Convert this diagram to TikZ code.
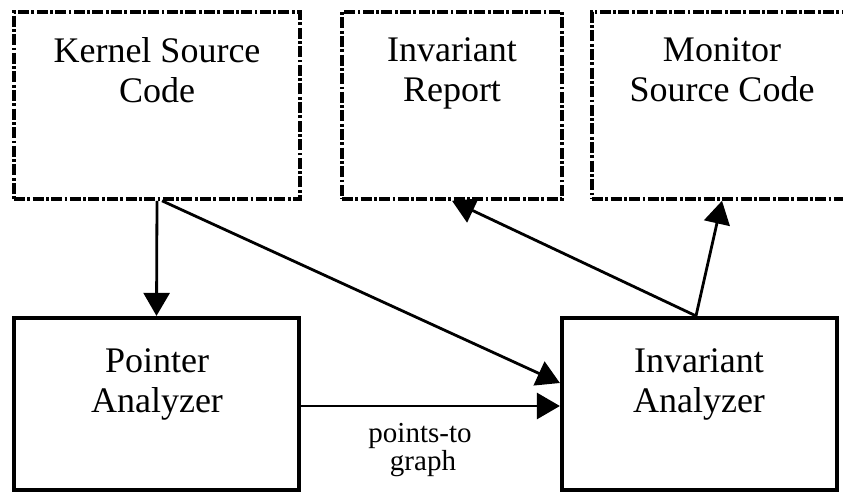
\documentclass[tikz,border=0pt]{standalone}
\usepackage{fontspec}
\setmainfont{Liberation Serif}
\usetikzlibrary{arrows.meta}

\begin{document}
\begin{tikzpicture}[x=0.5pt,y=-0.5pt,
  artefact/.style={draw, line width=1.8pt, rectangle,
    dash pattern=on 5.5pt off 1.2pt on 1.4pt off 1.2pt,
    minimum height=93.5pt, inner sep=0pt},
  tool/.style={draw, line width=2.1pt, rectangle,
    minimum height=86pt, inner sep=0pt},
  boxtext/.style={anchor=base, inner sep=0pt, font=\fontsize{18}{20}\selectfont},
  edgetext/.style={anchor=base, inner sep=0pt, font=\fontsize{14.5}{14}\selectfont},
  flow/.style={line width=1.4pt, -{Triangle[width=13pt,length=11.5pt]}}]

\clip (0,0) rectangle (843,493);
\fill[white] (0,0) rectangle (843,493);

% input / output artefacts (dash-dotted)
\node[artefact, minimum width=143pt] (kernel)  at (157,105.5) {};
\node[artefact, minimum width=110pt] (report)  at (452,105.5) {};
\node[artefact, minimum width=130pt] (monitor) at (722,105.5) {};

% analysis tools (solid)
\node[tool, minimum width=142.5pt] (pointer) at (156.5,404) {};
\node[tool, minimum width=137.5pt] (invana)  at (699.5,404) {};

% box captions
\node[boxtext] (kernelA)  at (157,62)  {Kernel Source};
\node[boxtext] (kernelB)  at (157,102) {Code};
\node[boxtext] (reportA)  at (452,61)  {Invariant};
\node[boxtext] (reportB)  at (452,101) {Report};
\node[boxtext] (monitorA) at (722,61)  {Monitor};
\node[boxtext] (monitorB) at (722,101) {Source Code};
\node[boxtext] (pointerA) at (157,372) {Pointer};
\node[boxtext] (pointerB) at (157,412) {Analyzer};
\node[boxtext] (invanaA)  at (699,372) {Invariant};
\node[boxtext] (invanaB)  at (699,412) {Analyzer};

% data flow
\draw[flow] (kernel.south) -- (pointer.north);
\draw[flow] ([xshift=2.5pt]kernel.south) -- ([yshift=10.5pt]invana.west);
\draw[flow] ([yshift=-1pt]pointer.east) -- ([yshift=-1pt]invana.west);
\draw[flow] ([xshift=-1.75pt]invana.north) -- (report.south);
\draw[flow] ([xshift=-1.75pt]invana.north) -- (monitor.south);

\node[edgetext] (ptsA) at (420,442) {points-to};
\node[edgetext] (ptsB) at (423,470) {graph};
\end{tikzpicture}
\end{document}
